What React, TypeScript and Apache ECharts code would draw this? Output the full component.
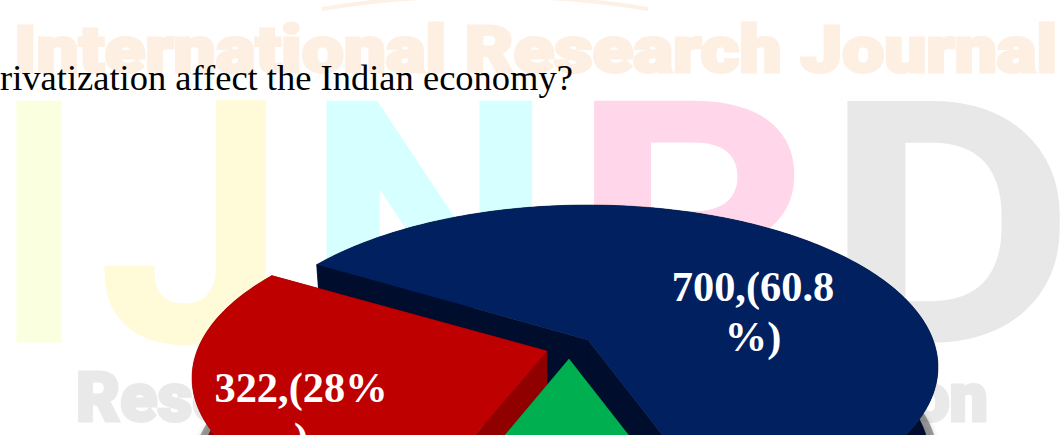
import React, { useEffect, useRef } from "react";
import * as echarts from "echarts";

// Survey responses shown as an exploded 3D pie
const sliceNames = ["Positive", "Negative", "No effect"];
const sliceValues = [700, 322, 129];
const sliceLabels = ["700,(60.8\n%)", "322,(28%\n)", ""];
const topColors = ["#002060", "#BE0000", "#00B050"];
const wallColors = ["#000D2D", "#900000", "#007A38"];
const questionText = "rivatization affect the Indian economy?";

// Per-slice placement of the tilted disc
const discCentres = [
  [588, 367],
  [547, 378],
  [569, 386],
];
const discRadii = [350, 355, 350];
const labelCentres = [
  [753, 311],
  [301, 412],
  [569, 480],
];

const RY = 162;
const APEX_LIFT = 27;
const DEPTH = 90;
const BOTTOM_SCALE = 0.975;
const TILT_RATIO = 2.23;
// Slices are laid out anticlockwise from this angle, measured clockwise from 12 o'clock
const LAYOUT_ANGLE = 520.5;

type Pt = [number, number];

// Point on the tilted rim for a pie angle, seen from the off-centre apex
function rimPoint(cx: number, cy: number, rx: number, deg: number, scale: number, drop: number): Pt {
  const th = (deg * Math.PI) / 180;
  const dx = (Math.sin(th) * TILT_RATIO) / 2.18;
  const dy = -Math.cos(th);
  const ay = -APEX_LIFT / RY;
  const a = dx * dx + dy * dy;
  const b = 2 * ay * dy;
  const c = ay * ay - 1;
  const t = (-b + Math.sqrt(b * b - 4 * a * c)) / (2 * a);
  return [cx + t * dx * rx * scale, cy + drop + (ay + t * dy) * RY * scale];
}

function apexPoint(cx: number, cy: number, scale: number, drop: number): Pt {
  return [cx, cy + drop - APEX_LIFT * scale];
}

function rimArc(cx: number, cy: number, rx: number, from: number, to: number, scale: number, drop: number): Pt[] {
  const pts: Pt[] = [];
  const n = Math.ceil(to - from);
  for (let i = 0; i <= n; i++) {
    pts.push(rimPoint(cx, cy, rx, from + ((to - from) * i) / n, scale, drop));
  }
  return pts;
}

const total = sliceValues.reduce((s, v) => s + v, 0);

function renderSlice(params: any, api: any) {
  const i = params.dataIndex;
  const value = api.value(0);
  const before = sliceValues.slice(0, i).reduce((s, v) => s + v, 0);
  const to = LAYOUT_ANGLE - (before / total) * 360;
  const from = to - (value / total) * 360;
  const [cx, cy] = discCentres[i];
  const rx = discRadii[i];

  const topRim = rimArc(cx, cy, rx, from, to, 1, 0);
  const lowRim = rimArc(cx, cy, rx, from, to, BOTTOM_SCALE, DEPTH);
  const castRim = rimArc(cx, cy, rx, from, to, 1, 92);
  const apex = apexPoint(cx, cy, 1, 0);
  const lowApex = apexPoint(cx, cy, BOTTOM_SCALE, DEPTH);

  const wall = (points: Pt[]) => ({
    type: "polygon",
    shape: { points },
    style: { fill: wallColors[i], stroke: wallColors[i], lineWidth: 0.5 },
  });

  const children: any[] = [
    // Soft shadow the solid casts on the page
    {
      type: "polygon",
      shape: { points: castRim },
      style: { fill: "rgba(60,60,60,0.45)", shadowBlur: 4, shadowColor: "rgba(60,60,60,0.45)" },
    },
    wall([apex, topRim[0], lowRim[0], lowApex]),
    wall([apex, topRim[topRim.length - 1], lowRim[lowRim.length - 1], lowApex]),
    wall([...topRim, ...lowRim.slice().reverse()]),
    {
      type: "polygon",
      shape: { points: [apex, ...topRim] },
      style: { fill: topColors[i] },
    },
  ];
  if (sliceLabels[i]) {
    children.push({
      type: "text",
      style: {
        text: sliceLabels[i],
        x: labelCentres[i][0],
        y: labelCentres[i][1],
        fill: "#FFFFFF",
        fontFamily: "Liberation Serif",
        fontWeight: "bold",
        fontSize: 42.4,
        lineHeight: 50,
        align: "center",
        verticalAlign: "middle",
      },
    });
  }
  return { type: "group", children };
}

// Faint journal mark printed behind the page content
function bigLetter(text: string, x: number, scaleX: number, fill: string) {
  return {
    type: "text",
    x,
    y: 63,
    scaleX,
    z: -5,
    style: {
      text,
      fill,
      stroke: fill,
      lineWidth: 10,
      lineJoin: "round",
      fontFamily: "Roboto",
      fontWeight: 500,
      fontSize: 326,
      align: "left",
      verticalAlign: "top",
    },
  };
}

function bandText(
  text: string,
  x: number,
  y: number,
  scaleX: number,
  size: number,
  fill: string,
  align: string = "left",
) {
  return {
    type: "text",
    x,
    y,
    scaleX,
    z: -5,
    style: {
      text,
      fill,
      stroke: fill,
      lineWidth: 3,
      lineJoin: "round",
      fontFamily: "Roboto",
      fontWeight: 900,
      fontSize: size,
      align,
      verticalAlign: "top",
    },
  };
}

export default function App() {
  const ref = useRef<HTMLDivElement>(null);
  useEffect(() => {
    document.body.style.margin = "0";
    document.body.style.overflow = "hidden";
    const chart = echarts.init(ref.current!, undefined, { renderer: "svg" });
    chart.setOption({
      animation: false,
      backgroundColor: "#FFFFFF",
      graphic: [
        {
          type: "bezierCurve",
          z: -5,
          shape: { x1: 322, y1: 9, x2: 648, y2: 9, cpx1: 420, cpy1: -8, cpx2: 550, cpy2: -8 },
          style: { stroke: "#FDF1E6", lineWidth: 4, fill: "none" },
        },
        bandText("International Research Journal", 14, 17, 1.15, 65, "#FDEFE2"),
        bigLetter("I", -3, 0.91, "#FAFFE0"),
        bigLetter("J", 102, 1, "#FFFAD8"),
        bigLetter("N", 307, 1.06, "#D6FFFF"),
        bigLetter("R", 573, 1.14, "#FFD6EA"),
        bigLetter("D", 826, 1.16, "#E8E8E8"),
        bandText("Research Through", 76, 364, 1, 68, "#E9E9E9"),
        bandText("Innovation", 988, 364, 1, 68, "#E9E9E9", "right"),
        {
          type: "text",
          x: 0,
          y: 59,
          z: 1,
          style: {
            text: questionText,
            fill: "#000000",
            fontFamily: "Liberation Serif",
            fontSize: 36.5,
            align: "left",
            verticalAlign: "top",
          },
        },
      ],
      series: [
        {
          type: "custom",
          coordinateSystem: "none",
          clip: false,
          renderItem: renderSlice,
          data: sliceValues.map((value, idx) => ({ name: sliceNames[idx], value: [value] })),
        },
      ],
    });
    return () => chart.dispose();
  }, []);
  return <div ref={ref} style={{ position: "fixed", left: 0, top: 0, width: 1062, height: 435 }} />;
}
